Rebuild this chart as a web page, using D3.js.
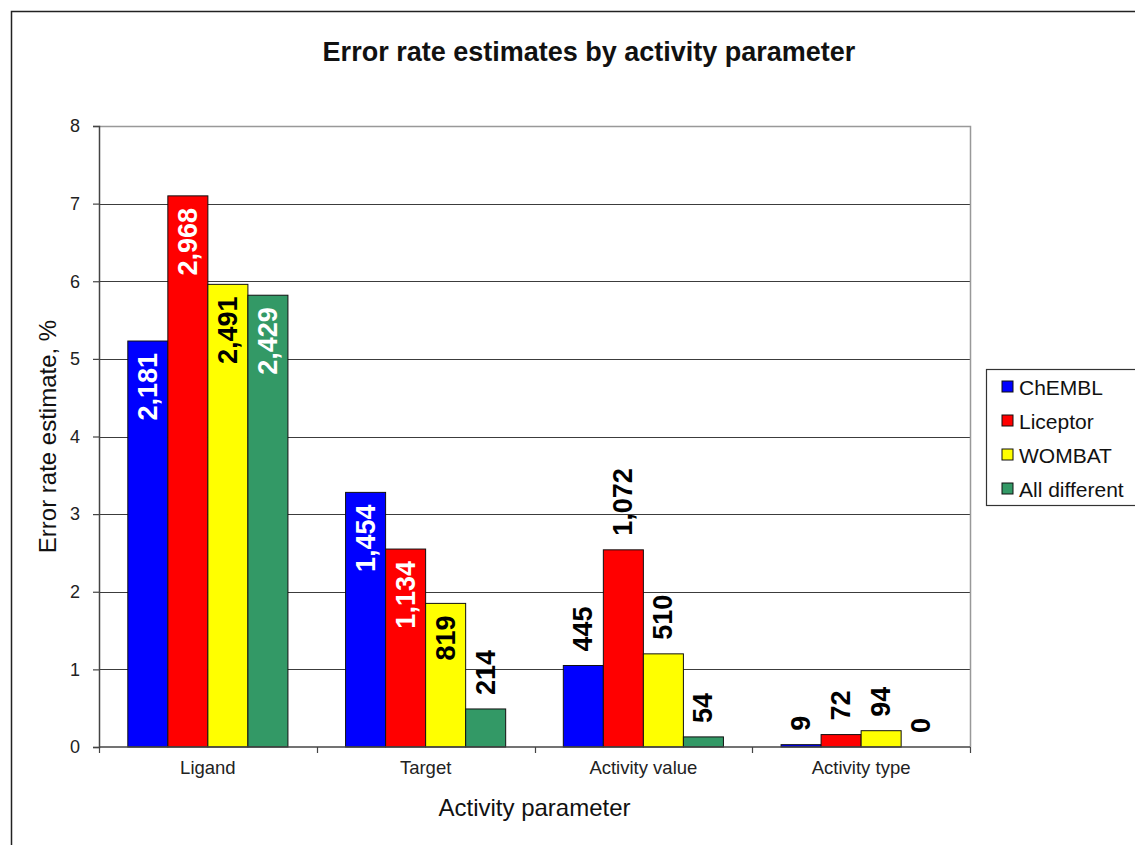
<!DOCTYPE html>
<html>
<head>
<meta charset="utf-8">
<script src="https://cdn.jsdelivr.net/npm/d3@7"></script>
<style>
	body { margin: 0; background: white; }
	svg { display: block; font-family: "Liberation Sans", Arial, sans-serif; }
</style>
</head>
<body>
<script>
// data
var categories = ['Ligand', 'Target', 'Activity value', 'Activity type']
var seriesNames = ['ChEMBL', 'Liceptor', 'WOMBAT', 'All different']

var chembl = [5.23, 3.28, 1.05, 0.03]
var liceptor = [7.10, 2.55, 2.54, 0.16]
var wombat = [5.96, 1.85, 1.20, 0.21]
var allDifferent = [5.82, 0.49, 0.13, 0]

var chemblCounts = [2181, 1454, 445, 9]
var liceptorCounts = [2968, 1134, 1072, 72]
var wombatCounts = [2491, 819, 510, 94]
var allDifferentCounts = [2429, 214, 54, 0]

var yTicks = [0, 1, 2, 3, 4, 5, 6, 7, 8]
// categories whose labels sit inside the bar (when they fit)
var insideCats = ['Ligand', 'Target']

var colors = ['#0000FF', '#FF0000', '#FFFF00', '#339966']
var textInside = ['white', 'white', 'black', 'white']

var values = [chembl, liceptor, wombat, allDifferent]
var counts = [chemblCounts, liceptorCounts, wombatCounts, allDifferentCounts]

var width = 1135,
	height = 845

var margin = {top: 126, right: 165, bottom: 98, left: 99}
var plotW = width - margin.left - margin.right,
	plotH = height - margin.top - margin.bottom

var svg = d3.select('body').append('svg')
	.attr('width', width)
	.attr('height', height)

// outer chart border
svg.append('rect')
	.attr('x', 11.5)
	.attr('y', 11.5)
	.attr('width', 1300)
	.attr('height', 1000)
	.attr('fill', 'white')
	.attr('stroke', '#222')
	.attr('stroke-width', 1.5)

svg.append('text')
	.attr('x', 589)
	.attr('y', 61)
	.attr('text-anchor', 'middle')
	.style('font-size', '27px')
	.style('font-weight', 'bold')
	.attr('fill', '#111')
	.text('Error rate estimates by activity parameter')

var g = svg.append('g')
	.attr('transform', 'translate(' + margin.left + ',' + margin.top + ')')

var y = d3.scaleLinear()
	.domain([0, 8])
	.range([plotH, 0])

var x0 = d3.scaleBand()
	.domain(categories)
	.range([0, plotW])
	.padding(0)

var x1 = d3.scaleBand()
	.domain(d3.range(seriesNames.length))
	.range([0, x0.bandwidth()])
	.paddingInner(0)
	.paddingOuter(0.72)

// gridlines
g.selectAll('.grid')
	.data(yTicks.filter(d => d > 0))
	.enter()
	.append('line')
		.attr('x1', 0)
		.attr('x2', plotW)
		.attr('y1', d => Math.round(y(d)) + 0.5)
		.attr('y2', d => Math.round(y(d)) + 0.5)
		.attr('stroke', '#3c3c3c')
		.attr('stroke-width', 1.2)

// plot area border (top, right)
g.append('path')
	.attr('d', 'M0,0.5H' + (plotW + 0.5) + 'V' + plotH)
	.attr('fill', 'none')
	.attr('stroke', '#999')
	.attr('stroke-width', 1.5)

// bars
var rows = []
categories.forEach(function (c, ci) {
	seriesNames.forEach(function (s, si) {
		rows.push({cat: c, ci: ci, si: si, v: values[si][ci], n: counts[si][ci]})
	})
})

g.selectAll('.bar')
	.data(rows)
	.enter()
	.append('rect')
		.attr('x', d => x0(d.cat) + x1(d.si))
		.attr('y', d => y(d.v))
		.attr('width', x1.bandwidth())
		.attr('height', d => plotH - y(d.v))
		.attr('fill', d => colors[d.si])
		.attr('stroke', '#111')
		.attr('stroke-width', 1)

// value labels (rotated)
var fmt = d3.format(',')
var labelSize = 27

g.selectAll('.lbl')
	.data(rows)
	.enter()
	.append('text')
		.style('font-size', labelSize + 'px')
		.style('font-weight', 'bold')
		.attr('dominant-baseline', 'central')
		.text(d => fmt(d.n))
		.each(function (d) {
			var len = this.getComputedTextLength()
			var barH = plotH - y(d.v)
			d.inside = insideCats.indexOf(d.cat) >= 0 && len + 24 < barH
		})
		.attr('text-anchor', d => d.inside ? 'end' : 'start')
		.attr('fill', d => d.inside ? textInside[d.si] : 'black')
		.attr('transform', function (d) {
			var cx = x0(d.cat) + x1(d.si) + x1.bandwidth() / 2
			var cy = d.inside ? y(d.v) + 12 : y(d.v) - 14
			return 'translate(' + cx + ',' + cy + ') rotate(-90)'
		})

// y axis
var yAxis = g.append('g')
	.call(d3.axisLeft(y).tickValues(yTicks).tickSize(6).tickPadding(13).tickFormat(d3.format('d')))
yAxis.select('.domain').attr('stroke', '#444').attr('stroke-width', 1.5)
yAxis.selectAll('.tick line').attr('stroke', '#444').attr('stroke-width', 1.2)
yAxis.selectAll('.tick text')
	.style('font-size', '18px')
	.style('font-family', '"Liberation Sans", Arial, sans-serif')
	.attr('fill', '#222')

// x axis: ticks at category boundaries, labels centred
var xAxis = g.append('g')
	.attr('transform', 'translate(0,' + plotH + ')')
xAxis.append('line')
	.attr('x1', 0)
	.attr('x2', plotW)
	.attr('stroke', '#444')
	.attr('stroke-width', 1.5)
xAxis.selectAll('.xtick')
	.data(d3.range(categories.length + 1))
	.enter()
	.append('line')
		.attr('x1', d => Math.round(d * x0.step()) + 0.5)
		.attr('x2', d => Math.round(d * x0.step()) + 0.5)
		.attr('y1', 0)
		.attr('y2', 6)
		.attr('stroke', '#444')
		.attr('stroke-width', 1.2)
xAxis.selectAll('.xlab')
	.data(categories)
	.enter()
	.append('text')
		.attr('x', d => x0(d) + x0.bandwidth() / 2)
		.attr('y', 27)
		.attr('text-anchor', 'middle')
		.style('font-size', '18.5px')
		.attr('fill', '#222')
		.text(d => d)

// axis titles
svg.append('text')
	.attr('x', margin.left + plotW / 2)
	.attr('y', 816)
	.attr('text-anchor', 'middle')
	.style('font-size', '24px')
	.attr('fill', '#111')
	.text('Activity parameter')

svg.append('text')
	.attr('transform', 'translate(56,' + (margin.top + plotH / 2) + ') rotate(-90)')
	.attr('text-anchor', 'middle')
	.style('font-size', '24px')
	.attr('fill', '#111')
	.text('Error rate estimate, %')

// LEGEND
var legend = svg.append('g')
	.attr('transform', 'translate(986,369)')

legend.append('rect')
	.attr('x', 0.5)
	.attr('y', 0.5)
	.attr('width', 200)
	.attr('height', 136)
	.attr('fill', 'white')
	.attr('stroke', '#333')
	.attr('stroke-width', 1.2)

legend.selectAll('legend_dots')
	.data(seriesNames)
	.enter()
	.append('rect')
		.attr('x', 16)
		.attr('y', (d, i) => 12 + i * 34)
		.attr('width', 11)
		.attr('height', 11)
		.attr('fill', (d, i) => colors[i])
		.attr('stroke', '#111')
		.attr('stroke-width', 1)

legend.selectAll('legend_labels')
	.data(seriesNames)
	.enter()
	.append('text')
		.attr('x', 33)
		.attr('y', (d, i) => 18 + i * 34)
		.attr('dominant-baseline', 'central')
		.style('font-size', '21px')
		.attr('fill', '#111')
		.text(d => d)
</script>
</body>
</html>
